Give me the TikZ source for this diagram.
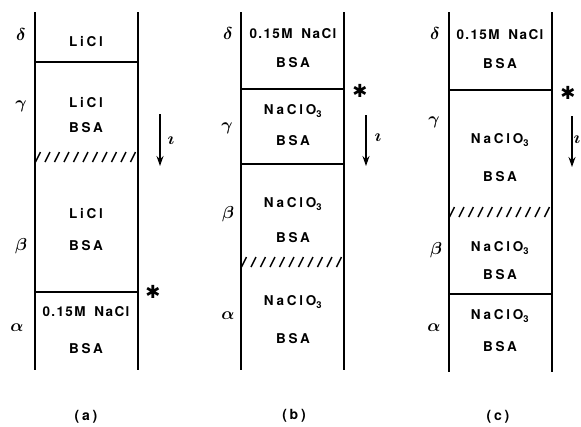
\documentclass[tikz,border=0pt]{standalone}
\usepackage{fontspec}
\setmainfont{TeX Gyre Heros}[LetterSpace=20]
\newfontfamily\symfont{DejaVu Sans}
\usetikzlibrary{arrows.meta}
\tikzset{
  wall/.style={line width=1.5pt},
  boundary/.style={line width=1.7pt},
  hatchline/.style={line width=1.4pt},
  lbl/.style={font=\fontsize{13.5}{15}\selectfont\bfseries, inner sep=0pt},
  greek/.style={font=\fontsize{19}{20}\selectfont\boldmath, inner sep=0pt},
  caption/.style={font=\fontsize{14}{16}\selectfont\bfseries, inner sep=0pt},
  star/.style={font=\fontsize{18}{18}\symfont, inner sep=0pt},
  current/.style={line width=1.3pt, -{Stealth[length=10pt,width=7pt]}},
}
% a row of short slanted strokes across a column, marking a diffuse boundary
\newcommand{\hatchrow}[3]{% left x, right x, y
  \foreach \k in {0,...,10}{
    \pgfmathsetmacro{\hx}{#1+3+\k*((#2)-(#1)-8)/10}
    \draw[hatchline] (\hx-2.5,#3+5) -- (\hx+2.5,#3-5);
  }}
\newcommand{\salt}{NaClO\textsubscript{3}}
\newcommand{\saline}{{\addfontfeature{LetterSpace=10}0.15M\; NaCl}}
\begin{document}
\begin{tikzpicture}[x=1pt,y=-1pt]
\useasboundingbox (0,0) rectangle (581,426);

% ---------------- column (a) ----------------
\draw[wall] (35,12) -- (35,370);
\draw[wall] (138,12) -- (138,370);
\draw[boundary] (35,62) -- (138,62);
\hatchrow{35}{138}{157}
\draw[boundary] (35,292) -- (138,292);
\node[greek] (ad) at (21,34) {$\delta$};
\node[greek] (ag) at (21,106) {$\gamma$};
\node[greek] (ab) at (21,246) {$\beta$};
\node[greek] (aa) at (17,328) {$\alpha$};
\node[lbl] (a1) at (86,42) {LiCl};
\node[lbl] (a2) at (86,103) {LiCl};
\node[lbl] (a3) at (86,128) {BSA};
\node[lbl] (a4) at (86,214) {LiCl};
\node[lbl] (a5) at (86,246) {BSA};
\node[lbl] (a6) at (86,312) {\saline};
\node[lbl] (a7) at (86,349) {BSA};
\node[star] (as) at (153,292) {✱};
\coordinate (ai1) at (160,114);
\coordinate (ai2) at (160,166);
\draw[current] (ai1) -- (ai2);
\node[greek] (ai) at (171,141) {$\imath$};
\node[caption] (ca) at (86,417) {(a)};

% ---------------- column (b) ----------------
\draw[wall] (241,12) -- (241,370);
\draw[wall] (344,12) -- (344,370);
\draw[boundary] (241,89) -- (344,89);
\draw[boundary] (241,164) -- (344,164);
\hatchrow{241}{344}{262}
\node[greek] (bd) at (228,33) {$\delta$};
\node[greek] (bg) at (227,128) {$\gamma$};
\node[greek] (bb) at (228,214) {$\beta$};
\node[greek] (ba) at (228,316) {$\alpha$};
\node[lbl] (b1) at (293,34) {\saline};
\node[lbl] (b2) at (293,63) {BSA};
\node[lbl] (b3) at (293,111) {\salt};
\node[lbl] (b4) at (293,141) {BSA};
\node[lbl] (b5) at (293,204) {\salt};
\node[lbl] (b6) at (293,238) {BSA};
\node[lbl] (b7) at (293,302) {\salt};
\node[lbl] (b8) at (293,339) {BSA};
\node[star] (bs) at (360,91) {✱};
\coordinate (bi1) at (366,115);
\coordinate (bi2) at (366,166);
\draw[current] (bi1) -- (bi2);
\node[greek] (bi) at (378,138) {$\imath$};
\node[caption] (cb) at (294,416) {(b)};

% ---------------- column (c) ----------------
\draw[wall] (449,12) -- (449,372);
\draw[wall] (552,12) -- (552,372);
\draw[boundary] (449,90) -- (552,90);
\hatchrow{449}{552}{212}
\draw[boundary] (449,294) -- (552,294);
\node[greek] (cd) at (435,33) {$\delta$};
\node[greek] (cg) at (434,122) {$\gamma$};
\node[greek] (cbt) at (436,250) {$\beta$};
\node[greek] (cal) at (434,328) {$\alpha$};
\node[lbl] (c1) at (500,35) {\saline};
\node[lbl] (c2) at (500,64) {BSA};
\node[lbl] (c3) at (500,140) {\salt};
\node[lbl] (c4) at (500,177) {BSA};
\node[lbl] (c5) at (500,248) {\salt};
\node[lbl] (c6) at (500,275) {BSA};
\node[lbl] (c7) at (500,316) {\salt};
\node[lbl] (c8) at (500,347) {BSA};
\node[star] (cs) at (568,93) {✱};
\coordinate (ci1) at (572,116);
\coordinate (ci2) at (572,167);
\draw[current] (ci1) -- (ci2);
\node[greek] (ci) at (577,140) {$\imath$};
\node[caption] (cc) at (498,417) {(c)};
\end{tikzpicture}
\end{document}
